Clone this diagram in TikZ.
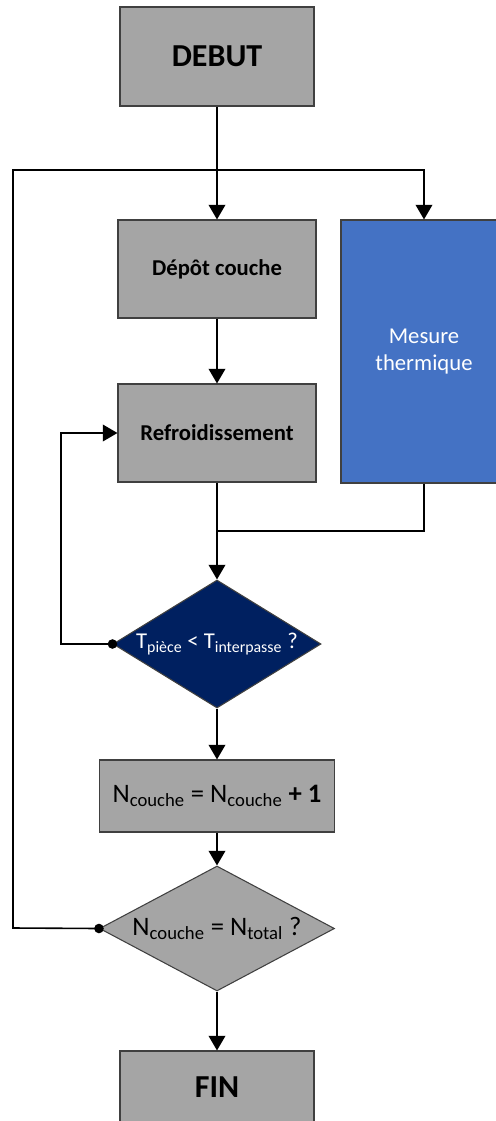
\documentclass[tikz,border=0pt]{standalone}
\usepackage{fontspec}
\setmainfont{Carlito}
\usetikzlibrary{arrows.meta,shapes.geometric}
\definecolor{boxgray}{HTML}{A5A5A5}
\definecolor{boxline}{HTML}{404040}
\definecolor{mesureblue}{HTML}{4472C4}
\definecolor{testnavy}{HTML}{002060}
\def\px{0.75pt}
\tikzset{
	stepbox/.style={draw=boxline, fill=boxgray, line width=0.8pt, inner sep=0pt},
	testbox/.style={stepbox, shape=diamond, aspect=2},
	flow/.style={line width=1.2pt},
	flowarr/.style={flow, -{Triangle[length=11pt,width=12.5pt]}},
}

\begin{document}
\begin{tikzpicture}[x=\px, y=-\px]
			%%%%% START %%%%%
			\useasboundingbox (0,0) rectangle (496,1121);
			\clip (0,0) rectangle (496,1121);
			
			\node[stepbox, minimum width=194*\px, minimum height=99*\px, font=\fontsize{24}{28}\selectfont\bfseries] (debut) at (217,56.5) {DEBUT};
			
			\node[stepbox, minimum width=198*\px, minimum height=98*\px, font=\fontsize{17}{20}\selectfont\bfseries] (depot) at (217,269) {Dépôt couche};
			\node[stepbox, minimum width=198*\px, minimum height=98*\px, font=\fontsize{17}{20}\selectfont\bfseries] (refroid) at (217,433) {Refroidissement};
			\node[stepbox, fill=mesureblue, minimum width=166*\px, minimum height=263*\px, text=white, align=center, font=\fontsize{17}{20}\selectfont] (mesure) at (424,351.5) {Mesure\\thermique};
			
			\node[testbox, fill=testnavy, minimum width=208*\px, minimum height=128*\px, text=white, font=\fontsize{17}{20}\selectfont] (test1) at (217,644) {T\textsubscript{pièce} < T\textsubscript{interpasse} ?};
			
			\node[stepbox, minimum width=235*\px, minimum height=72*\px, font=\fontsize{20}{24}\selectfont] (ncouche) at (217,796) {N\textsubscript{couche} = N\textsubscript{couche} \textbf{+ 1}};
			\node[testbox, minimum width=235*\px, minimum height=125*\px, font=\fontsize{20}{24}\selectfont] (test2) at (217,928.5) {N\textsubscript{couche} = N\textsubscript{total} ?};
			
			\node[stepbox, minimum width=194*\px, minimum height=72*\px, font=\fontsize{24}{28}\selectfont\bfseries] (fin) at (217,1087) {FIN};
			
			\coordinate (split) at (217,170);
			\coordinate (merge) at (217,531);
			\coordinate (backA) at (61,644);
			\coordinate (backB) at (13,928);
			
			\draw[flow] (debut) -- (split);
			\draw[flowarr] (split) -- (depot);
			\draw[flowarr] (split) -| (mesure);
			\draw[flowarr] (depot) -- (refroid);
			
			\draw[flow] (refroid) -- (merge);
			\draw[flow] (mesure) |- (merge);
			\draw[flowarr] (merge) -- (test1);
			
			\draw[flowarr] (test1.west) -- (backA) |- (refroid.west);
			\fill (test1.west) circle (3.6pt);
			
			\draw[flowarr] (test1) -- (ncouche);
			\draw[flowarr] (ncouche) -- (test2);
			
			\draw[flow] (test2.west) -- (backB) |- (split);
			\fill (test2.west) circle (3.6pt);
			
			\draw[flowarr] (test2) -- (fin);
			
			%%%%% END %%%%%
\end{tikzpicture}
\end{document}
